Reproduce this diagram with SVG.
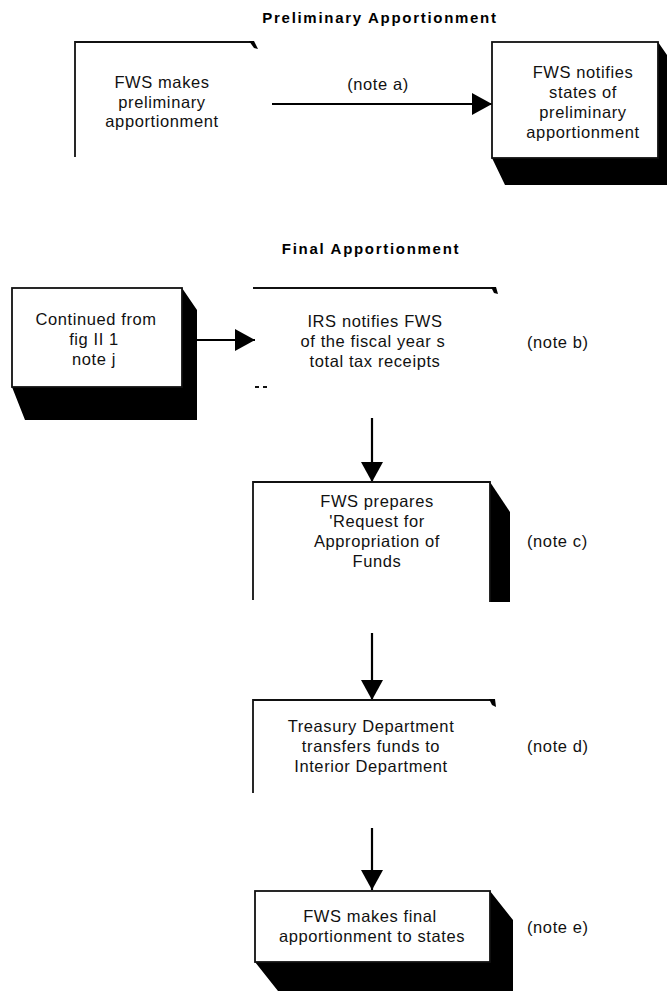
<svg xmlns="http://www.w3.org/2000/svg" width="670" height="991" viewBox="0 0 670 991">
<style>
.t{font-family:"Liberation Sans",Arial,Helvetica,sans-serif;font-size:16.5px;letter-spacing:0.6px;fill:#111;text-anchor:middle}
.n{font-family:"Liberation Sans",Arial,Helvetica,sans-serif;font-size:16.5px;letter-spacing:0.6px;fill:#111;text-anchor:start}
.h{font-family:"Liberation Sans",Arial,Helvetica,sans-serif;font-size:15px;font-weight:bold;letter-spacing:1.7px;fill:#000;text-anchor:middle}
.ln{stroke:#111;stroke-width:1.8;fill:none}
.face{fill:#fff;stroke:#111;stroke-width:1.8}
.sh{fill:#000}
.conn{stroke:#000;stroke-width:2.2;fill:none;marker-end:url(#ah)}
</style>
<defs>
<marker id="ah" markerUnits="userSpaceOnUse" markerWidth="20" markerHeight="22" refX="20" refY="11" orient="auto">
<path d="M0,0 L20,11 L0,22 Z" fill="#000"/>
</marker>
</defs>
<rect width="670" height="991" fill="#fff"/>

<text class="h" x="380" y="23">Preliminary Apportionment</text>
<text class="h" x="371" y="254">Final Apportionment</text>

<g id="connectors">
<line class="conn" x1="272" y1="104" x2="492" y2="104"/>
<line class="conn" x1="197" y1="340" x2="255" y2="340"/>
<line class="conn" x1="372" y1="418" x2="372" y2="482"/>
<line class="conn" x1="372" y1="633" x2="372" y2="700"/>
<line class="conn" x1="372" y1="828" x2="372" y2="890"/>
<text class="t" x="378" y="90">(note a)</text>
</g>

<g id="n1">
<path class="ln" d="M75,157 V42 H252"/>
<polygon class="sh" points="249,41 254,41 258,49 254,48"/>
<text class="t" x="162" y="88">FWS makes</text>
<text class="t" x="162" y="108">preliminary</text>
<text class="t" x="162" y="127">apportionment</text>
</g>

<g id="n2">
<polygon class="sh" points="658,42 667,55 667,185 505,185 492,158 658,158"/>
<rect class="face" x="492" y="42" width="166" height="116"/>
<text class="t" x="583" y="78">FWS notifies</text>
<text class="t" x="583" y="98">states of</text>
<text class="t" x="583" y="118">preliminary</text>
<text class="t" x="583" y="138">apportionment</text>
</g>

<g id="n3">
<polygon class="sh" points="182,288 197,310 197,420 25,420 12,387 182,387"/>
<rect class="face" x="12" y="288" width="170" height="99"/>
<text class="t" x="96" y="325">Continued from</text>
<text class="t" x="94" y="345">fig  II 1</text>
<text class="t" x="94" y="365">note j</text>
</g>

<g id="n4">
<path class="ln" d="M253,288 H494"/>
<polygon class="sh" points="491,287 496,287 498,294 494,293"/>
<path class="ln" d="M255,387 H259 M263,387 H267"/>
<text class="t" x="375" y="327">IRS notifies FWS</text>
<text class="t" x="373" y="347">of the fiscal year s</text>
<text class="t" x="375" y="367">total tax receipts</text>
<text class="n" x="527" y="348">(note b)</text>
</g>

<g id="n5">
<polygon class="sh" points="490,482 510,512 510,602 490,602"/>
<path class="ln" d="M253,600 V482 H490 V602"/>
<text class="t" x="377" y="507">FWS prepares</text>
<text class="t" x="377" y="527">'Request for</text>
<text class="t" x="377" y="547">Appropriation of</text>
<text class="t" x="377" y="567">Funds</text>
<text class="n" x="527" y="547">(note c)</text>
</g>

<g id="n6">
<path class="ln" d="M253,793 V700 H492"/>
<polygon class="sh" points="489,699 495,699 496,707 492,705"/>
<text class="t" x="371" y="732">Treasury Department</text>
<text class="t" x="371" y="752">transfers funds to</text>
<text class="t" x="371" y="772">Interior Department</text>
<text class="n" x="527" y="752">(note d)</text>
</g>

<g id="n7">
<polygon class="sh" points="490,891 513,920 513,991 278,991 255,962 490,962"/>
<rect class="face" x="255" y="891" width="235" height="71"/>
<text class="t" x="370" y="922">FWS makes final</text>
<text class="t" x="372" y="942">apportionment to states</text>
<text class="n" x="527" y="933">(note e)</text>
</g>
</svg>
